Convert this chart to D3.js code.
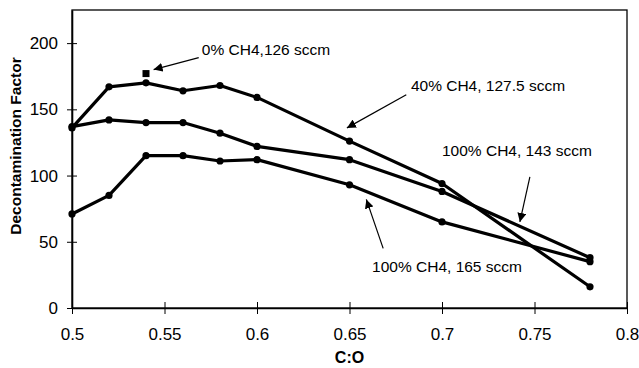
<!DOCTYPE html>
<html>
<head>
<meta charset="utf-8">
<script src="https://cdn.jsdelivr.net/npm/d3@7"></script>
<style>
  body { margin: 0; background: #fff; }
  text { font-family: "Liberation Sans", Arial, sans-serif; fill: #000; }
</style>
</head>
<body>
<svg width="639" height="368"></svg>
<script>
// C:O ratios sampled
const ratios = [0.5, 0.52, 0.54, 0.56, 0.58, 0.6, 0.65, 0.7, 0.78]
const ch4_40_127 = [136, 167, 170, 164, 168, 159, 126, 94, 16]
const ch4_100_143 = [137, 142, 140, 140, 132, 122, 112, 88, 38]
const ch4_100_165 = [71, 85, 115, 115, 111, 112, 93, 65, 35]
const ch4_0_126 = [[0.54, 177]]
const xTicks = [0.5, 0.55, 0.6, 0.65, 0.7, 0.75, 0.8]
const yTicks = [0, 50, 100, 150, 200]

const series = [ch4_40_127, ch4_100_143, ch4_100_165]

// callouts: label, text position, arrow start, arrow end (in data units)
const notes = [
  {label: "0% CH4,126 sccm", at: [0.5702, 195], from: [0.5685, 189], to: [0.5441, 180]},
  {label: "40% CH4, 127.5 sccm", at: [0.6832, 168], from: [0.6807, 161], to: [0.6486, 136]},
  {label: "100% CH4, 143 sccm", at: [0.7000, 119], from: [0.7475, 99], to: [0.7421, 65]},
  {label: "100% CH4, 165 sccm", at: [0.6622, 31], from: [0.6682, 45], to: [0.6591, 82]}
]

const svg = d3.select("svg")
const margin = {left: 72, right: 12, top: 10, bottom: 60}
const width = 639 - margin.left - margin.right
const height = 368 - margin.top - margin.bottom

const x = d3.scaleLinear().domain([0.5, 0.8]).range([margin.left, margin.left + width])
const y = d3.scaleLinear().domain([0, 225]).range([margin.top + height, margin.top])

svg.append("defs").append("marker")
  .attr("id", "arrow")
  .attr("viewBox", "0 0 10 10")
  .attr("refX", 10).attr("refY", 5)
  .attr("markerWidth", 9).attr("markerHeight", 9)
  .attr("markerUnits", "userSpaceOnUse")
  .attr("orient", "auto")
  .append("path").attr("d", "M0,0 L10,5 L0,10 Z").attr("fill", "#000")

// frame
svg.append("rect")
  .attr("x", margin.left).attr("y", margin.top)
  .attr("width", width).attr("height", height)
  .attr("fill", "none").attr("stroke", "#000").attr("stroke-width", 1.3)

// axes, ticks crossing the line
svg.append("g")
  .attr("transform", `translate(0,${margin.top + height})`)
  .call(d3.axisBottom(x).tickValues(xTicks).tickFormat(d3.format("")).tickSizeInner(6).tickSizeOuter(0).tickPadding(14))
  .call(g => g.select(".domain").attr("stroke-width", 1.6))
  .call(g => g.selectAll(".tick line").attr("y1", -6))
  .call(g => g.selectAll(".tick text").attr("font-size", 17).attr("font-family", "Liberation Sans, Arial, sans-serif"))

svg.append("g")
  .attr("transform", `translate(${margin.left},0)`)
  .call(d3.axisLeft(y).tickValues(yTicks).tickSizeInner(5).tickSizeOuter(0).tickPadding(9))
  .call(g => g.select(".domain").attr("stroke-width", 1.6))
  .call(g => g.selectAll(".tick line").attr("x1", 5))
  .call(g => g.selectAll(".tick text").attr("font-size", 17).attr("font-family", "Liberation Sans, Arial, sans-serif"))

// axis titles
svg.append("text")
  .attr("x", margin.left + width / 2).attr("y", 363)
  .attr("text-anchor", "middle")
  .attr("font-size", 16).attr("font-weight", "bold")
  .text("C:O")

svg.append("text")
  .attr("transform", "translate(21,146) rotate(-90)")
  .attr("text-anchor", "middle")
  .attr("font-size", 15.5).attr("font-weight", "bold")
  .text("Decontamination Factor")

// lines + markers
const line = d3.line().x((d, i) => x(ratios[i])).y(d => y(d))

series.forEach(vals => {
  svg.append("path")
    .datum(vals)
    .attr("d", line)
    .attr("fill", "none")
    .attr("stroke", "#000")
    .attr("stroke-width", 3.2)
    .attr("stroke-linejoin", "round")
  svg.append("g").selectAll("circle")
    .data(vals)
    .join("circle")
    .attr("cx", (d, i) => x(ratios[i]))
    .attr("cy", d => y(d))
    .attr("r", 3.6)
    .attr("fill", "#000")
})

svg.selectAll("rect.sq")
  .data(ch4_0_126)
  .join("rect")
  .attr("class", "sq")
  .attr("x", d => x(d[0]) - 3.5).attr("y", d => y(d[1]) - 3.5)
  .attr("width", 7).attr("height", 7)
  .attr("fill", "#000")

// callouts
notes.forEach(n => {
  svg.append("line")
    .attr("x1", x(n.from[0])).attr("y1", y(n.from[1]))
    .attr("x2", x(n.to[0])).attr("y2", y(n.to[1]))
    .attr("stroke", "#000").attr("stroke-width", 1.2)
    .attr("marker-end", "url(#arrow)")
  svg.append("text")
    .attr("x", x(n.at[0])).attr("y", y(n.at[1]))
    .attr("dy", "0.35em")
    .attr("font-size", 15.5)
    .text(n.label)
})
</script>
</body>
</html>
